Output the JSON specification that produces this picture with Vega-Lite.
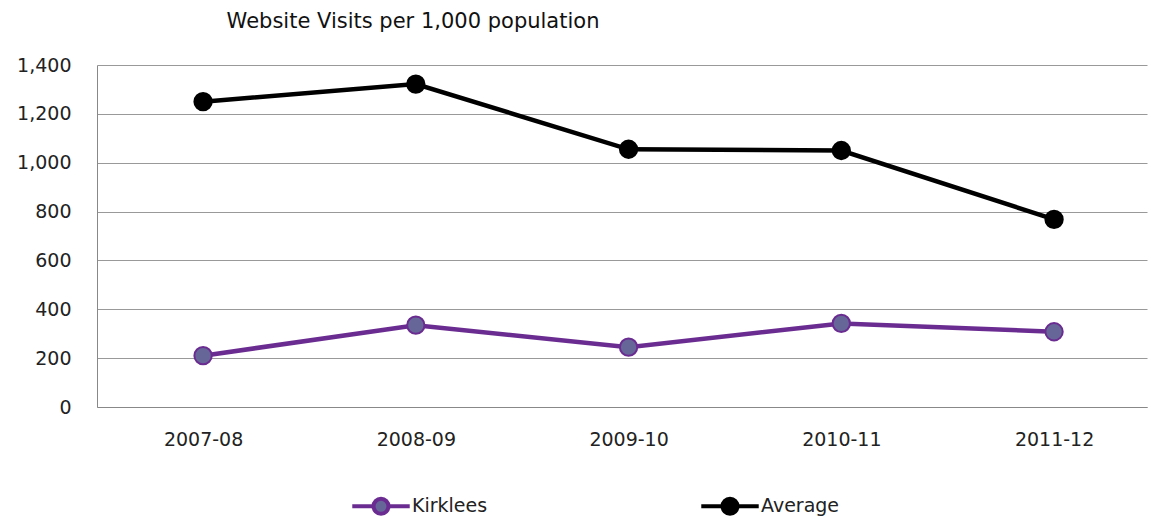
{
  "$schema": "https://vega.github.io/schema/vega-lite/v6.json",
  "width": 1050,
  "height": 342,
  "autosize": {"type": "none"},
  "padding": {"left": 97, "top": 65, "right": 5, "bottom": 109},
  "background": "white",
  "title": {
    "text": "Website Visits per 1,000 population",
    "anchor": "start",
    "dx": 210,
    "offset": 24,
    "fontSize": 21,
    "fontWeight": "normal",
    "font": "DejaVu Sans",
    "color": "#111111"
  },
  "data": {
    "values": [
      {"year": "2007-08", "series": "Kirklees", "value": 210},
      {"year": "2008-09", "series": "Kirklees", "value": 335},
      {"year": "2009-10", "series": "Kirklees", "value": 245},
      {"year": "2010-11", "series": "Kirklees", "value": 342},
      {"year": "2011-12", "series": "Kirklees", "value": 308},
      {"year": "2007-08", "series": "Average", "value": 1250},
      {"year": "2008-09", "series": "Average", "value": 1322},
      {"year": "2009-10", "series": "Average", "value": 1055},
      {"year": "2010-11", "series": "Average", "value": 1050},
      {"year": "2011-12", "series": "Average", "value": 768}
    ]
  },
  "config": {
    "view": {"stroke": null},
    "font": "DejaVu Sans",
    "axis": {
      "labelFont": "DejaVu Sans",
      "labelFontSize": 19,
      "labelColor": "#222222",
      "domainColor": "#888888",
      "gridColor": "#999999",
      "ticks": false,
      "title": null
    },
    "legend": {
      "labelFont": "DejaVu Sans",
      "labelFontSize": 19,
      "labelColor": "#222222"
    }
  },
  "encoding": {
    "x": {
      "field": "year",
      "type": "ordinal",
      "scale": {"type": "point", "padding": 0.4677, "align": 0.533},
      "axis": {"labelAngle": 0, "labelPadding": 23, "grid": false, "domainWidth": 1}
    },
    "y": {
      "field": "value",
      "type": "quantitative",
      "scale": {"domain": [0, 1400], "nice": false},
      "axis": {"values": [0, 200, 400, 600, 800, 1000, 1200, 1400], "format": ",d", "labelPadding": 26, "grid": true, "domainWidth": 1}
    }
  },
  "layer": [
    {
      "mark": {"type": "line", "strokeWidth": 4.5},
      "encoding": {
        "stroke": {
          "field": "series",
          "type": "nominal",
          "scale": {"domain": ["Kirklees", "Average"], "range": ["#6B2C91", "#000000"]},
          "legend": {
            "title": null,
            "orient": "none",
            "direction": "horizontal",
            "legendX": 253,
            "legendY": 410,
            "columnPadding": 205,
            "symbolType": "M-1,0L-0.26,0M0.26,0L1,0M0.26,0A0.26,0.26 0 1,1 -0.26,0A0.26,0.26 0 1,1 0.26,0",
            "symbolSize": 3300,
            "symbolStrokeWidth": 4,
            "labelOffset": 0
          }
        }
      }
    },
    {
      "mark": {"type": "point", "filled": true, "size": 300, "strokeWidth": 2, "opacity": 1},
      "encoding": {
        "fill": {
          "field": "series",
          "type": "nominal",
          "scale": {"domain": ["Kirklees", "Average"], "range": ["#666699", "#000000"]},
          "legend": {
            "title": null,
            "orient": "none",
            "direction": "horizontal",
            "legendX": 253,
            "legendY": 410,
            "columnPadding": 205,
            "symbolType": "M-1,0L-0.26,0M0.26,0L1,0M0.26,0A0.26,0.26 0 1,1 -0.26,0A0.26,0.26 0 1,1 0.26,0",
            "symbolSize": 3300,
            "symbolStrokeWidth": 4,
            "labelOffset": 0
          }
        },
        "stroke": {
          "field": "series",
          "type": "nominal",
          "scale": {"domain": ["Kirklees", "Average"], "range": ["#6B2C91", "#000000"]}
        }
      }
    }
  ]
}
